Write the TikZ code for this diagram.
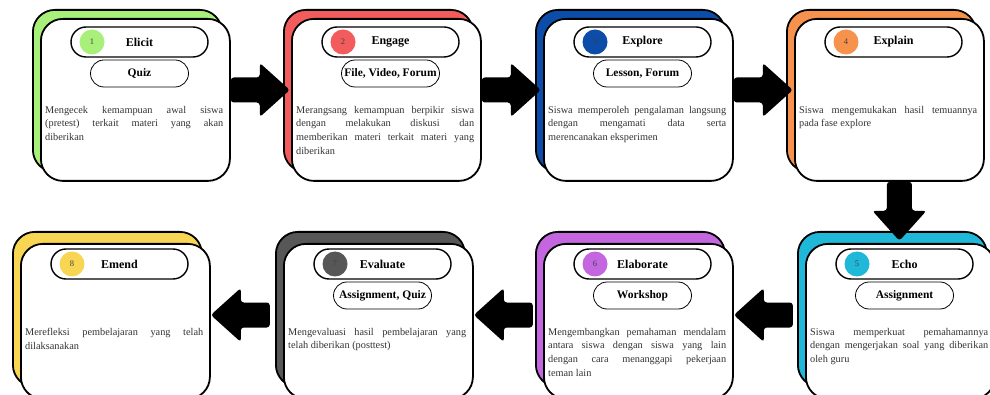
\documentclass[tikz,border=0pt]{standalone}
\usepackage{fontspec}
\setmainfont{Liberation Serif}
\usetikzlibrary{calc}
\definecolor{cA}{HTML}{A8F07A}
\definecolor{cB}{HTML}{F25C5C}
\definecolor{cC}{HTML}{0B4DA8}
\definecolor{cD}{HTML}{F7924C}
\definecolor{cE}{HTML}{20B8D8}
\definecolor{cF}{HTML}{C466E0}
\definecolor{cG}{HTML}{575757}
\definecolor{cH}{HTML}{F8D654}
\tolerance=10000
\hbadness=10000
\tikzset{
  cardback/.style={draw=black, line width=1.8pt, rounded corners=22pt, minimum width=189pt, inner sep=0pt, anchor=north west},
  cardfront/.style={cardback, fill=white},
  titlepill/.style={draw=black, line width=1.4pt, rounded corners=15pt, minimum width=137pt, minimum height=30pt, inner sep=0pt, fill=white, font=\bfseries\fontsize{12}{14}\selectfont},
  subpill/.style={draw=black, line width=0.8pt, rounded corners=13.5pt, minimum width=98pt, minimum height=27pt, inner sep=0pt, fill=white, font=\bfseries\fontsize{11.5}{13}\selectfont},
  numdot/.style={circle, minimum size=25pt, inner sep=0pt, text=black!75, font=\fontsize{8.5}{9}\selectfont},
  desc/.style={anchor=north west, text width=178pt, align=justify, inner sep=0pt, text=black!80, font=\fontsize{10.3}{13.6}\selectfont},
  blockarr/.pic={\fill[black, rounded corners=3pt] (0,-12.5) -- (29,-12.5) -- (29,-27) -- (59,0) -- (29,27) -- (29,12.5) -- (0,12.5) -- cycle;}
}
% #1 id, #2 x0, #3 y0, #4 colour, #5 height, #6 title, #7 sub, #8 text, #9 dy
\newcommand\stagecard[9]{%
  \pgfmathsetmacro\cxx{#2+99.5}%
  \pgfmathsetmacro\bx{#2-8}%
  \pgfmathsetmacro\by{#3-9+#9}%
  \pgfmathsetmacro\py{#3+24+#9}%
  \pgfmathsetmacro\sy{#3+55.5+#9}%
  \pgfmathsetmacro\dy{#3+88+#9}%
  \pgfmathsetmacro\nx{\cxx-47.5}%
  \pgfmathsetmacro\tx{#2+5}%
  \node[cardback, fill=#4, minimum height=#5pt] (back#1) at (\bx,\by) {};
  \node[cardfront, minimum height=#5pt] (card#1) at (#2,#3) {};
  \node[titlepill] (pill#1) at (\cxx,\py) {#6};
  \node[numdot, fill=#4] (num#1) at (\nx,\py) {#1};
  \if\relax\detokenize{#7}\relax\else
  \node[subpill] (sub#1) at (\cxx,\sy) {#7};\fi
  \node[desc] (desc#1) at (\tx,\dy) {\tolerance=10000\relax #8};
}
\begin{document}
\begin{tikzpicture}[x=1pt,y=-1pt]
\useasboundingbox (0,0) rectangle (990,395);
\fill[white] (0,0) rectangle (990,395);
\clip (0,0) rectangle (990,395);
\stagecard{1}{40}{18}{cA}{162}{Elicit}{Quiz}{Mengecek kemampuan awal siswa\linebreak (pretest) terkait materi yang akan\linebreak diberikan}{0}
\stagecard{2}{291}{18}{cB}{162}{Engage}{File, Video, Forum}{Merangsang kemampuan berpikir siswa\linebreak dengan melakukan diskusi dan\linebreak memberikan materi terkait materi yang\linebreak diberikan}{0}
\stagecard{3}{543}{18}{cC}{162}{Explore}{Lesson, Forum}{Siswa memperoleh pengalaman langsung\linebreak dengan mengamati data serta\linebreak merencanakan eksperimen}{0}
\stagecard{4}{794}{18}{cD}{162}{Explain}{}{Siswa mengemukakan hasil temuannya\linebreak pada fase explore}{0}
\stagecard{5}{805}{243}{cE}{155}{Echo}{Assignment}{Siswa memperkuat pemahamannya\linebreak dengan mengerjakan soal yang diberikan\linebreak oleh guru}{-3}
\stagecard{6}{543}{243}{cF}{155}{Elaborate}{Workshop}{Mengembangkan pemahaman mendalam\linebreak antara siswa dengan siswa yang lain\linebreak dengan cara menanggapi pekerjaan\linebreak teman lain}{-3}
\stagecard{7}{283}{243}{cG}{155}{Evaluate}{Assignment, Quiz}{Mengevaluasi hasil pembelajaran yang\linebreak telah diberikan (posttest)}{-3}
\stagecard{8}{20}{243}{cH}{155}{Emend}{}{Merefleksi pembelajaran yang telah\linebreak dilaksanakan}{-3}
% arrows
\pic at ($(card1.north east)+(0,72)$) {blockarr};
\pic at ($(card2.north east)+(0,72)$) {blockarr};
\pic at ($(card3.north east)+(0,72)$) {blockarr};
\pic[rotate=-90] at ($(card4.south)+(10,0)$) {blockarr};
\pic[rotate=180] at ($(card6.north east)+(59,72)$) {blockarr};
\pic[rotate=180] at ($(card7.north east)+(59,72)$) {blockarr};
\pic[rotate=180] at ($(card8.north east)+(59,72)$) {blockarr};
\end{tikzpicture}
\end{document}
